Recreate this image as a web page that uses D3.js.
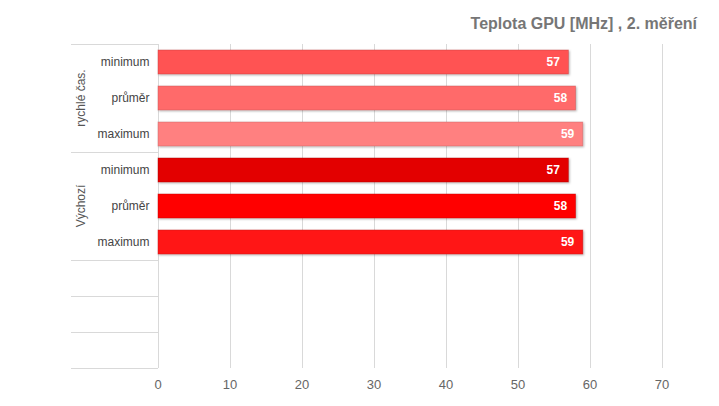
<!DOCTYPE html>
<html lang="cs">
<head>
<meta charset="UTF-8">
<script src="https://d3js.org/d3.v7.min.js"></script>
<style>
  body { margin: 0; background: #fff; }
  svg { font-family: Arial, "Liberation Sans", sans-serif; }
  .grid line { stroke: #d9d9d9; shape-rendering: crispEdges; }
  .xAxis text { font-size: 13px; fill: #666; font-family: Arial, "Liberation Sans", sans-serif; }
  .cat { font-size: 12px; fill: #444; }
  .grp { font-size: 12px; fill: #555; }
  .val { font-size: 12px; font-weight: bold; fill: #fff; }
</style>
</head>
<body>
<script>
// data
var groups = ["rychlé čas.", "Výchozí"]
var categories = ["minimum", "průměr", "maximum"]
var fastValues = [57, 58, 59]
var defaultValues = [57, 58, 59]
var fastColors = ["#ff5252", "#ff6b6b", "#ff8080"]
var defaultColors = ["#e30000", "#ff0000", "#ff1616"]
var xTicks = [0, 10, 20, 30, 40, 50, 60, 70]
var emptyRows = 3
var title = "Teplota GPU [MHz] , 2. měření"

var width = 719, height = 406
var plotLeft = 157.5, plotRight = 661.5, plotTop = 44, plotBottom = 368
var groupLeft = 71

var rows = []
categories.forEach(function (c, i) { rows.push({ g: 0, cat: c, v: fastValues[i], color: fastColors[i] }) })
categories.forEach(function (c, i) { rows.push({ g: 1, cat: c, v: defaultValues[i], color: defaultColors[i] }) })
for (var i = 0; i < emptyRows; i++) rows.push({ g: -1, cat: "", v: null })
rows.forEach(function (d, i) { d.key = "r" + i })

var svg = d3.select("body").append("svg").attr("width", width).attr("height", height)

var defs = svg.append("defs")
var f = defs.append("filter").attr("id", "shadow").attr("x", "-5%").attr("y", "-20%").attr("width", "115%").attr("height", "160%")
f.append("feDropShadow").attr("dx", 1).attr("dy", 1).attr("stdDeviation", 0.8).attr("flood-color", "#000").attr("flood-opacity", 0.3)

var x = d3.scaleLinear().domain([0, 70]).range([plotLeft, plotRight])
var y = d3.scaleBand().domain(rows.map(function (d) { return d.key })).range([plotTop, plotBottom]).paddingInner(1 / 3).paddingOuter(1 / 6)
var rowH = (plotBottom - plotTop) / rows.length

// vertical gridlines
svg.append("g").attr("class", "grid").selectAll("line").data(xTicks).enter().append("line")
  .attr("x1", function (d) { return Math.round(x(d)) + 0.5 }).attr("x2", function (d) { return Math.round(x(d)) + 0.5 })
  .attr("y1", plotTop).attr("y2", plotBottom)

// category separators on the left
var seps = [0, 3, 6, 7, 8, 9]
svg.append("g").attr("class", "grid").selectAll("line").data(seps).enter().append("line")
  .attr("x1", groupLeft).attr("x2", x(0))
  .attr("y1", function (d) { return Math.round(plotTop + d * rowH) + 0.5 })
  .attr("y2", function (d) { return Math.round(plotTop + d * rowH) + 0.5 })

// x axis labels
var xAxis = d3.axisBottom(x).tickValues(xTicks).tickSize(0).tickPadding(12)
var xg = svg.append("g").attr("class", "xAxis").attr("transform", "translate(0," + plotBottom + ")").call(xAxis)
xg.select(".domain").remove()

// bars
var bars = rows.filter(function (d) { return d.v != null })
svg.append("g").selectAll("rect").data(bars).enter().append("rect")
  .attr("x", x(0) + 0.5)
  .attr("y", function (d) { return y(d.key) })
  .attr("width", function (d) { return x(d.v) - x(0) })
  .attr("height", y.bandwidth())
  .attr("fill", function (d) { return d.color })
  .attr("stroke", function (d) { return d3.color(d.color).darker(0.8) })
  .attr("stroke-opacity", 0.5)
  .attr("stroke-width", 0.8)
  .attr("filter", "url(#shadow)")

svg.append("g").selectAll("text").data(bars).enter().append("text")
  .attr("class", "val")
  .attr("x", function (d) { return x(d.v) - 8 })
  .attr("y", function (d) { return y(d.key) + y.bandwidth() / 2 + 4 })
  .attr("text-anchor", "end")
  .text(function (d) { return d.v })

// category labels
svg.append("g").selectAll("text").data(bars).enter().append("text")
  .attr("class", "cat")
  .attr("x", x(0) - 8)
  .attr("y", function (d) { return y(d.key) + y.bandwidth() / 2 + 4 })
  .attr("text-anchor", "end")
  .text(function (d) { return d.cat })

// group labels
svg.append("g").selectAll("text").data(groups).enter().append("text")
  .attr("class", "grp")
  .attr("transform", function (d, i) { return "translate(85," + (plotTop + (i * 3 + 1.5) * rowH) + ") rotate(-90)" })
  .attr("text-anchor", "middle")
  .text(function (d) { return d })

// title
svg.append("text").attr("x", 697).attr("y", 29).attr("text-anchor", "end")
  .style("font-size", "16px").style("font-weight", "bold").style("fill", "#767676")
  .text(title)
</script>
</body>
</html>
